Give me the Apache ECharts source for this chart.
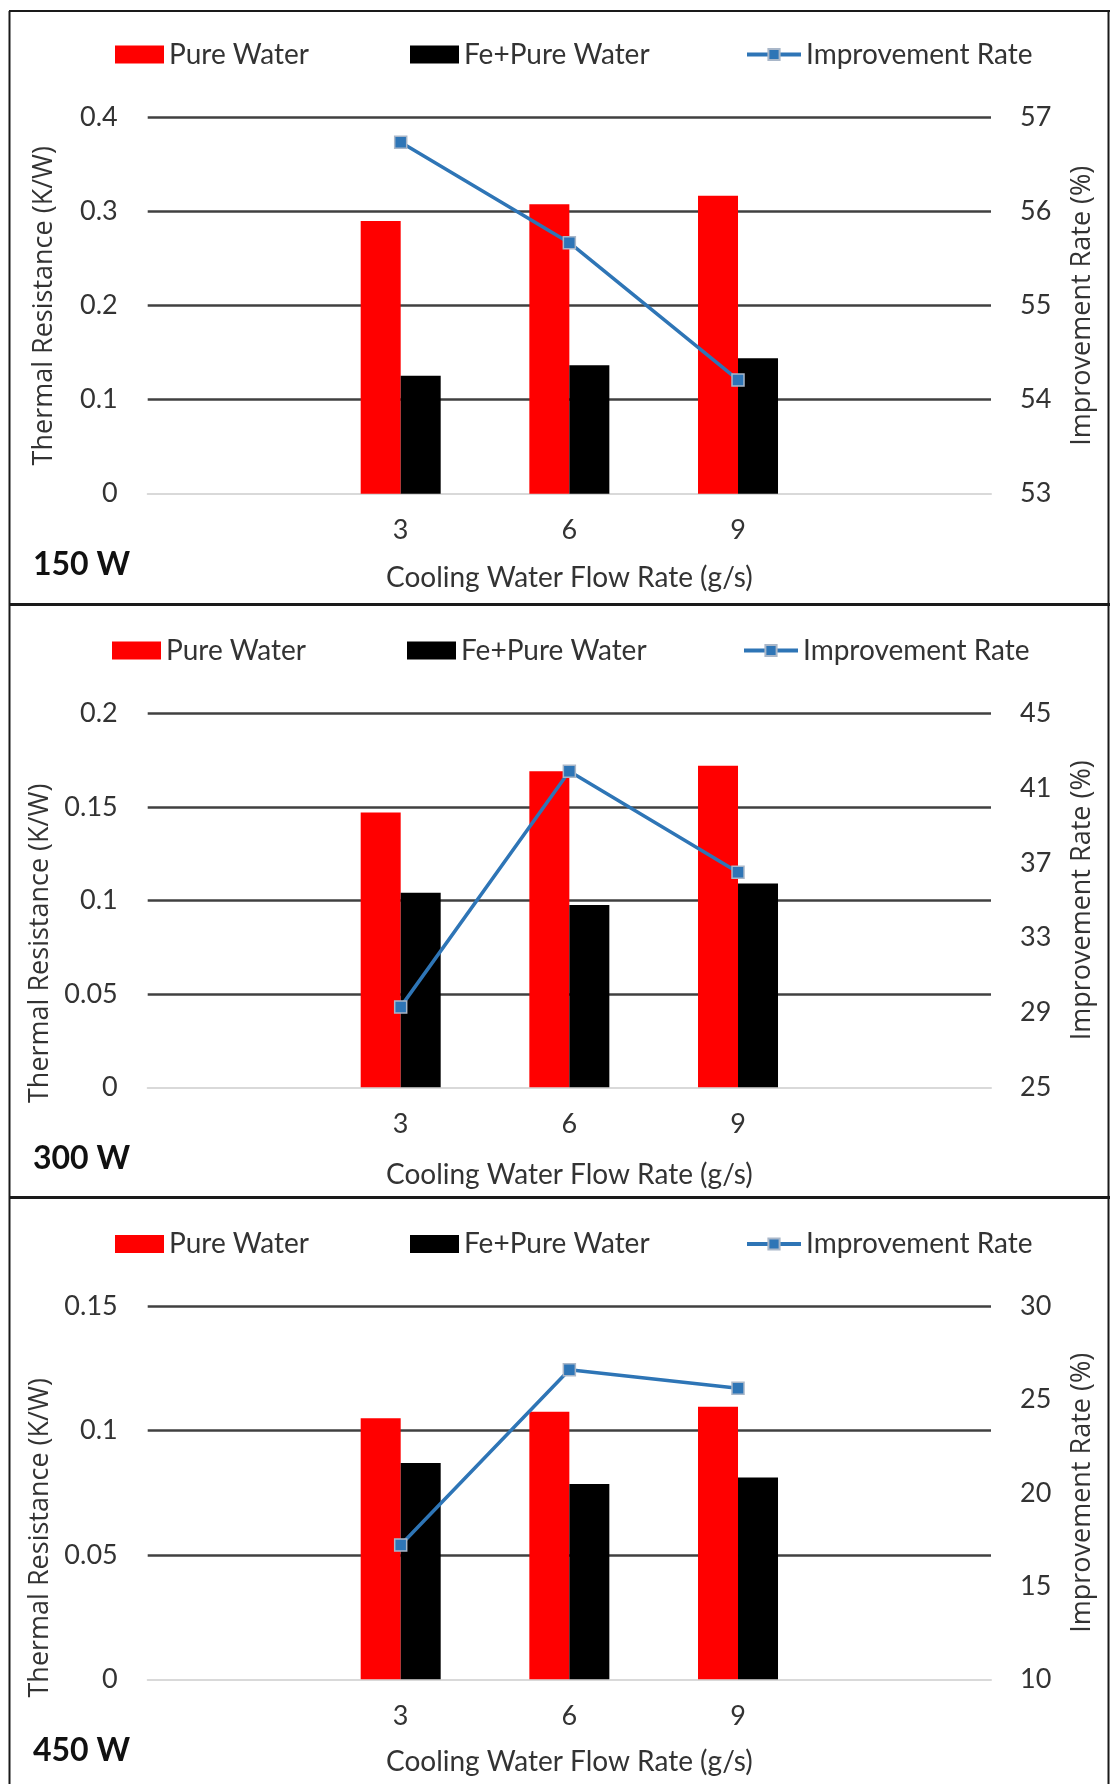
<!DOCTYPE html>
<html><head><meta charset="utf-8">
<script src="https://cdn.jsdelivr.net/npm/echarts@6/dist/echarts.min.js"></script>
<style>html,body{margin:0;padding:0;background:#fff}#c{width:1110px;height:1784px}</style>
</head><body><div id="c"></div>
<script>
// ---- data ----
const categories = ['', '3', '6', '9', ''];
const seriesNames = ['Pure Water', 'Fe+Pure Water', 'Improvement Rate'];
const panelLabels = ['150 W', '300 W', '450 W'];

const pure150 = [null, 0.290, 0.308, 0.317, null];
const fe150   = [null, 0.1255, 0.1366, 0.144, null];
const imp150  = [null, 56.74, 55.67, 54.21, null];

const pure300 = [null, 0.147, 0.169, 0.172, null];
const fe300   = [null, 0.104, 0.0975, 0.109, null];
const imp300  = [null, 29.3, 41.9, 36.5, null];

const pure450 = [null, 0.105, 0.1076, 0.1096, null];
const fe450   = [null, 0.087, 0.0785, 0.0812, null];
const imp450  = [null, 17.2, 26.6, 25.6, null];

const leftTicks150  = [0, 0.1, 0.2, 0.3, 0.4];
const rightTicks150 = [53, 54, 55, 56, 57];
const leftTicks300  = [0, 0.05, 0.1, 0.15, 0.2];
const rightTicks300 = [25, 29, 33, 37, 41, 45];
const leftTicks450  = [0, 0.05, 0.1, 0.15];
const rightTicks450 = [10, 15, 20, 25, 30];

const xName = 'Cooling Water Flow Rate (g/s)';
const yLeftName = 'Thermal Resistance (K/W)';
const yRightName = 'Improvement Rate (%)';

// ---- styling / layout ----
const FONT = 'Lato, "Open Sans", sans-serif';
const TFONT = '"Open Sans", "DejaVu Sans", sans-serif';
const TXT = '#333333';
const RED = '#ff0000', BLACK = '#000000', BLUE = '#2e75b6';

const panels = [
  {pure: pure150, fe: fe150, imp: imp150, lt: leftTicks150, rt: rightTicks150,
   top: 117.7, height: 376, legendY: 49.5, lshift: 0, nameShift: 0, xGap: 70, label: panelLabels[0]},
  {pure: pure300, fe: fe300, imp: imp300, lt: leftTicks300, rt: rightTicks300,
   top: 713.3, height: 374, legendY: 645.5, lshift: -3, nameShift: 43, xGap: 74, label: panelLabels[1]},
  {pure: pure450, fe: fe450, imp: imp450, lt: leftTicks450, rt: rightTicks450,
   top: 1306.3, height: 373, legendY: 1239, lshift: 0, nameShift: 45, xGap: 69, label: panelLabels[2]}
];

const grid = [], xAxis = [], yAxis = [], series = [], legend = [], graphic = [];

panels.forEach((p, i) => {
  grid.push({left: 147.7, right: 119, top: p.top, height: p.height, containLabel: false});
  xAxis.push({
    type: 'category', gridIndex: i, data: categories, boundaryGap: true,
    axisLine: {show: true, lineStyle: {color: '#d9d9d9', width: 2}},
    axisTick: {show: false},
    axisLabel: {interval: 0, fontFamily: FONT, fontSize: 27, color: TXT, margin: 23},
    name: xName, nameLocation: 'middle', nameGap: p.xGap,
    nameTextStyle: {fontFamily: FONT, fontSize: 28, color: TXT}
  });
  const lmin = p.lt[0], lmax = p.lt[p.lt.length - 1];
  yAxis.push({
    type: 'value', gridIndex: i, position: 'left', min: lmin, max: lmax,
    interval: p.lt[1] - p.lt[0],
    axisLine: {show: false}, axisTick: {show: false},
    splitLine: {show: true, showMinLine: false, lineStyle: {color: '#404040', width: 2.5}},
    axisLabel: {fontFamily: FONT, fontSize: 27, color: TXT, margin: 30,
      formatter: v => String(+v.toFixed(4))},
    name: yLeftName, nameLocation: 'middle', nameGap: 90,
    nameTextStyle: {fontFamily: TFONT, fontSize: 27, color: TXT,
      padding: [0, 2 * p.nameShift, 0, 0]}
  });
  yAxis.push({
    type: 'value', gridIndex: i, position: 'right', min: p.rt[0], max: p.rt[p.rt.length - 1],
    axisLine: {show: false}, axisTick: {show: false}, splitLine: {show: false},
    axisLabel: {fontFamily: FONT, fontSize: 27, color: TXT, margin: 29, customValues: p.rt},
    name: yRightName, nameLocation: 'middle', nameGap: 78,
    nameTextStyle: {fontFamily: TFONT, fontSize: 27, color: TXT}
  });
  series.push({
    name: seriesNames[0], type: 'bar', xAxisIndex: i, yAxisIndex: 2 * i,
    data: p.pure, barWidth: 40, barGap: '0%', itemStyle: {color: RED}
  });
  series.push({
    name: seriesNames[1], type: 'bar', xAxisIndex: i, yAxisIndex: 2 * i,
    data: p.fe, barWidth: 40, barGap: '0%', itemStyle: {color: BLACK}
  });
  series.push({
    name: seriesNames[2], type: 'line', xAxisIndex: i, yAxisIndex: 2 * i + 1,
    data: p.imp, symbol: 'rect', symbolSize: 12, z: 5,
    lineStyle: {color: BLUE, width: 3.5},
    itemStyle: {color: BLUE, borderColor: '#a9b7c9', borderWidth: 1.5}
  });
  const lt = {fontFamily: FONT, fontSize: 28, color: TXT};
  legend.push({data: [seriesNames[0]], left: 110 + p.lshift, top: p.legendY - 14,
    icon: 'rect', itemWidth: 49, itemHeight: 18, textStyle: lt, selectedMode: false});
  legend.push({data: [seriesNames[1]], left: 405 + p.lshift, top: p.legendY - 14,
    icon: 'rect', itemWidth: 49, itemHeight: 18, textStyle: lt, selectedMode: false});
  legend.push({data: [seriesNames[2]], left: 740 + p.lshift, top: p.legendY - 14,
    itemWidth: 54, itemHeight: 14, textStyle: lt, selectedMode: false,
    lineStyle: {width: 4, color: BLUE}});
  graphic.push({type: 'text', left: 33, top: p.top + p.height + 73 - 18,
    style: {text: p.label, font: 'bold 32px Lato, sans-serif', fill: '#111'}});
});

// frame lines
const frame = [
  {x1: 9, y1: 11, x2: 1110, y2: 11, w: 2},
  {x1: 9.5, y1: 11, x2: 9.5, y2: 1784, w: 2},
  {x1: 1108.5, y1: 11, x2: 1108.5, y2: 1784, w: 2},
  {x1: 9, y1: 604.5, x2: 1110, y2: 604.5, w: 3},
  {x1: 9, y1: 1197.5, x2: 1110, y2: 1197.5, w: 3}
];
frame.forEach(f => graphic.push({type: 'line', shape: {x1: f.x1, y1: f.y1, x2: f.x2, y2: f.y2},
  style: {stroke: '#1a1a1a', lineWidth: f.w}, silent: true}));

const chart = echarts.init(document.getElementById('c'), null, {renderer: 'canvas'});
chart.setOption({
  animation: false, backgroundColor: '#fff',
  grid, xAxis, yAxis, series, legend, graphic
});
</script></body></html>
